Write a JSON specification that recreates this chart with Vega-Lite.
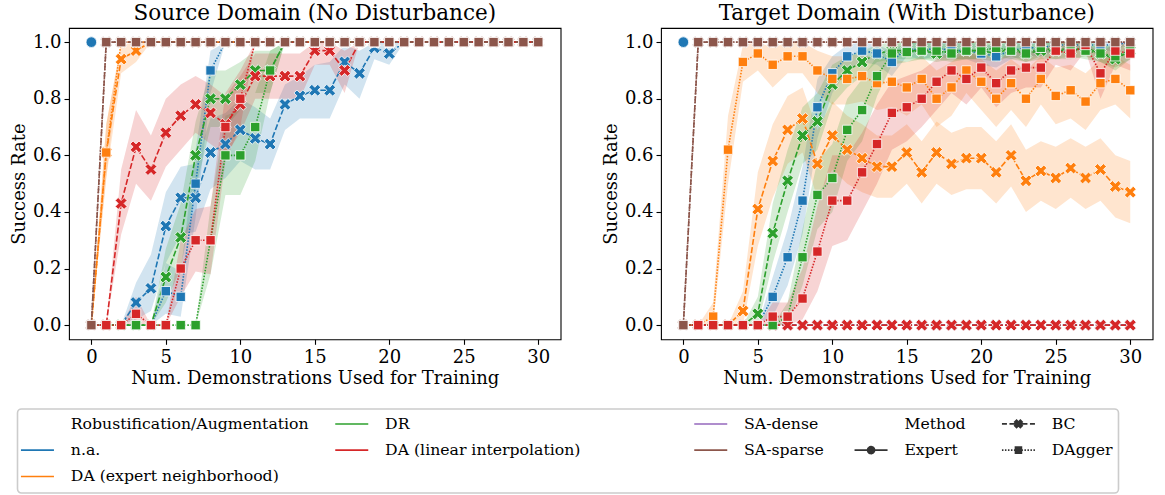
{
  "$schema": "https://vega.github.io/schema/vega-lite/v6.json",
  "padding": {"left": 9, "top": 2, "right": 2, "bottom": 0},
  "background": "white",
  "data": {"values": [
    {"p":"S","g":"na","m":"Expert","x":0,"y":1,"l":1,"h":1},
    {"p":"S","g":"na","m":"BC","x":0,"y":0,"l":0,"h":0},
    {"p":"S","g":"na","m":"BC","x":1,"y":0,"l":0,"h":0},
    {"p":"S","g":"na","m":"BC","x":2,"y":0,"l":0,"h":0},
    {"p":"S","g":"na","m":"BC","x":3,"y":0.08,"l":0.02,"h":0.15},
    {"p":"S","g":"na","m":"BC","x":4,"y":0.13,"l":0.05,"h":0.25},
    {"p":"S","g":"na","m":"BC","x":5,"y":0.35,"l":0.22,"h":0.47},
    {"p":"S","g":"na","m":"BC","x":6,"y":0.45,"l":0.32,"h":0.56},
    {"p":"S","g":"na","m":"BC","x":7,"y":0.45,"l":0.33,"h":0.57},
    {"p":"S","g":"na","m":"BC","x":8,"y":0.61,"l":0.48,"h":0.73},
    {"p":"S","g":"na","m":"BC","x":9,"y":0.64,"l":0.52,"h":0.75},
    {"p":"S","g":"na","m":"BC","x":10,"y":0.69,"l":0.58,"h":0.8},
    {"p":"S","g":"na","m":"BC","x":11,"y":0.66,"l":0.55,"h":0.77},
    {"p":"S","g":"na","m":"BC","x":12,"y":0.64,"l":0.55,"h":0.73},
    {"p":"S","g":"na","m":"BC","x":13,"y":0.78,"l":0.69,"h":0.85},
    {"p":"S","g":"na","m":"BC","x":14,"y":0.81,"l":0.73,"h":0.88},
    {"p":"S","g":"na","m":"BC","x":15,"y":0.83,"l":0.73,"h":0.92},
    {"p":"S","g":"na","m":"BC","x":16,"y":0.83,"l":0.73,"h":0.93},
    {"p":"S","g":"na","m":"BC","x":17,"y":0.93,"l":0.85,"h":0.99},
    {"p":"S","g":"na","m":"BC","x":18,"y":0.89,"l":0.8,"h":0.97},
    {"p":"S","g":"na","m":"BC","x":19,"y":0.98,"l":0.94,"h":1},
    {"p":"S","g":"na","m":"BC","x":20,"y":0.96,"l":0.92,"h":1},
    {"p":"S","g":"na","m":"BC","x":21,"y":1,"l":1,"h":1},
    {"p":"S","g":"na","m":"BC","x":22,"y":1,"l":1,"h":1},
    {"p":"S","g":"na","m":"BC","x":23,"y":1,"l":1,"h":1},
    {"p":"S","g":"na","m":"BC","x":24,"y":1,"l":1,"h":1},
    {"p":"S","g":"na","m":"BC","x":25,"y":1,"l":1,"h":1},
    {"p":"S","g":"na","m":"BC","x":26,"y":1,"l":1,"h":1},
    {"p":"S","g":"na","m":"BC","x":27,"y":1,"l":1,"h":1},
    {"p":"S","g":"na","m":"BC","x":28,"y":1,"l":1,"h":1},
    {"p":"S","g":"na","m":"BC","x":29,"y":1,"l":1,"h":1},
    {"p":"S","g":"na","m":"BC","x":30,"y":1,"l":1,"h":1},
    {"p":"S","g":"na","m":"DAgger","x":0,"y":0,"l":0,"h":0},
    {"p":"S","g":"na","m":"DAgger","x":1,"y":0,"l":0,"h":0},
    {"p":"S","g":"na","m":"DAgger","x":2,"y":0,"l":0,"h":0},
    {"p":"S","g":"na","m":"DAgger","x":3,"y":0,"l":0,"h":0},
    {"p":"S","g":"na","m":"DAgger","x":4,"y":0,"l":0,"h":0},
    {"p":"S","g":"na","m":"DAgger","x":5,"y":0.12,"l":0.04,"h":0.22},
    {"p":"S","g":"na","m":"DAgger","x":6,"y":0.1,"l":0.03,"h":0.19},
    {"p":"S","g":"na","m":"DAgger","x":7,"y":0.5,"l":0.38,"h":0.62},
    {"p":"S","g":"na","m":"DAgger","x":8,"y":0.9,"l":0.82,"h":0.97},
    {"p":"S","g":"na","m":"DAgger","x":9,"y":1,"l":1,"h":1},
    {"p":"S","g":"na","m":"DAgger","x":10,"y":1,"l":1,"h":1},
    {"p":"S","g":"na","m":"DAgger","x":11,"y":1,"l":1,"h":1},
    {"p":"S","g":"na","m":"DAgger","x":12,"y":1,"l":1,"h":1},
    {"p":"S","g":"na","m":"DAgger","x":13,"y":1,"l":1,"h":1},
    {"p":"S","g":"na","m":"DAgger","x":14,"y":1,"l":1,"h":1},
    {"p":"S","g":"na","m":"DAgger","x":15,"y":1,"l":1,"h":1},
    {"p":"S","g":"na","m":"DAgger","x":16,"y":1,"l":1,"h":1},
    {"p":"S","g":"na","m":"DAgger","x":17,"y":1,"l":1,"h":1},
    {"p":"S","g":"na","m":"DAgger","x":18,"y":1,"l":1,"h":1},
    {"p":"S","g":"na","m":"DAgger","x":19,"y":1,"l":1,"h":1},
    {"p":"S","g":"na","m":"DAgger","x":20,"y":1,"l":1,"h":1},
    {"p":"S","g":"na","m":"DAgger","x":21,"y":1,"l":1,"h":1},
    {"p":"S","g":"na","m":"DAgger","x":22,"y":1,"l":1,"h":1},
    {"p":"S","g":"na","m":"DAgger","x":23,"y":1,"l":1,"h":1},
    {"p":"S","g":"na","m":"DAgger","x":24,"y":1,"l":1,"h":1},
    {"p":"S","g":"na","m":"DAgger","x":25,"y":1,"l":1,"h":1},
    {"p":"S","g":"na","m":"DAgger","x":26,"y":1,"l":1,"h":1},
    {"p":"S","g":"na","m":"DAgger","x":27,"y":1,"l":1,"h":1},
    {"p":"S","g":"na","m":"DAgger","x":28,"y":1,"l":1,"h":1},
    {"p":"S","g":"na","m":"DAgger","x":29,"y":1,"l":1,"h":1},
    {"p":"S","g":"na","m":"DAgger","x":30,"y":1,"l":1,"h":1},
    {"p":"S","g":"dae","m":"BC","x":0,"y":0,"l":0,"h":0},
    {"p":"S","g":"dae","m":"BC","x":1,"y":0.61,"l":0.52,"h":0.71},
    {"p":"S","g":"dae","m":"BC","x":2,"y":0.94,"l":0.89,"h":0.99},
    {"p":"S","g":"dae","m":"BC","x":3,"y":0.97,"l":0.93,"h":1},
    {"p":"S","g":"dae","m":"BC","x":4,"y":1,"l":1,"h":1},
    {"p":"S","g":"dae","m":"BC","x":5,"y":1,"l":1,"h":1},
    {"p":"S","g":"dae","m":"BC","x":6,"y":1,"l":1,"h":1},
    {"p":"S","g":"dae","m":"BC","x":7,"y":1,"l":1,"h":1},
    {"p":"S","g":"dae","m":"BC","x":8,"y":1,"l":1,"h":1},
    {"p":"S","g":"dae","m":"BC","x":9,"y":1,"l":1,"h":1},
    {"p":"S","g":"dae","m":"BC","x":10,"y":1,"l":1,"h":1},
    {"p":"S","g":"dae","m":"BC","x":11,"y":1,"l":1,"h":1},
    {"p":"S","g":"dae","m":"BC","x":12,"y":1,"l":1,"h":1},
    {"p":"S","g":"dae","m":"BC","x":13,"y":1,"l":1,"h":1},
    {"p":"S","g":"dae","m":"BC","x":14,"y":1,"l":1,"h":1},
    {"p":"S","g":"dae","m":"BC","x":15,"y":1,"l":1,"h":1},
    {"p":"S","g":"dae","m":"BC","x":16,"y":1,"l":1,"h":1},
    {"p":"S","g":"dae","m":"BC","x":17,"y":1,"l":1,"h":1},
    {"p":"S","g":"dae","m":"BC","x":18,"y":1,"l":1,"h":1},
    {"p":"S","g":"dae","m":"BC","x":19,"y":1,"l":1,"h":1},
    {"p":"S","g":"dae","m":"BC","x":20,"y":1,"l":1,"h":1},
    {"p":"S","g":"dae","m":"BC","x":21,"y":1,"l":1,"h":1},
    {"p":"S","g":"dae","m":"BC","x":22,"y":1,"l":1,"h":1},
    {"p":"S","g":"dae","m":"BC","x":23,"y":1,"l":1,"h":1},
    {"p":"S","g":"dae","m":"BC","x":24,"y":1,"l":1,"h":1},
    {"p":"S","g":"dae","m":"BC","x":25,"y":1,"l":1,"h":1},
    {"p":"S","g":"dae","m":"BC","x":26,"y":1,"l":1,"h":1},
    {"p":"S","g":"dae","m":"BC","x":27,"y":1,"l":1,"h":1},
    {"p":"S","g":"dae","m":"BC","x":28,"y":1,"l":1,"h":1},
    {"p":"S","g":"dae","m":"BC","x":29,"y":1,"l":1,"h":1},
    {"p":"S","g":"dae","m":"BC","x":30,"y":1,"l":1,"h":1},
    {"p":"S","g":"dae","m":"DAgger","x":0,"y":0,"l":0,"h":0},
    {"p":"S","g":"dae","m":"DAgger","x":1,"y":0.61,"l":0.52,"h":0.71},
    {"p":"S","g":"dae","m":"DAgger","x":2,"y":1,"l":1,"h":1},
    {"p":"S","g":"dae","m":"DAgger","x":3,"y":1,"l":1,"h":1},
    {"p":"S","g":"dae","m":"DAgger","x":4,"y":1,"l":1,"h":1},
    {"p":"S","g":"dae","m":"DAgger","x":5,"y":1,"l":1,"h":1},
    {"p":"S","g":"dae","m":"DAgger","x":6,"y":1,"l":1,"h":1},
    {"p":"S","g":"dae","m":"DAgger","x":7,"y":1,"l":1,"h":1},
    {"p":"S","g":"dae","m":"DAgger","x":8,"y":1,"l":1,"h":1},
    {"p":"S","g":"dae","m":"DAgger","x":9,"y":1,"l":1,"h":1},
    {"p":"S","g":"dae","m":"DAgger","x":10,"y":1,"l":1,"h":1},
    {"p":"S","g":"dae","m":"DAgger","x":11,"y":1,"l":1,"h":1},
    {"p":"S","g":"dae","m":"DAgger","x":12,"y":1,"l":1,"h":1},
    {"p":"S","g":"dae","m":"DAgger","x":13,"y":1,"l":1,"h":1},
    {"p":"S","g":"dae","m":"DAgger","x":14,"y":1,"l":1,"h":1},
    {"p":"S","g":"dae","m":"DAgger","x":15,"y":1,"l":1,"h":1},
    {"p":"S","g":"dae","m":"DAgger","x":16,"y":1,"l":1,"h":1},
    {"p":"S","g":"dae","m":"DAgger","x":17,"y":1,"l":1,"h":1},
    {"p":"S","g":"dae","m":"DAgger","x":18,"y":1,"l":1,"h":1},
    {"p":"S","g":"dae","m":"DAgger","x":19,"y":1,"l":1,"h":1},
    {"p":"S","g":"dae","m":"DAgger","x":20,"y":1,"l":1,"h":1},
    {"p":"S","g":"dae","m":"DAgger","x":21,"y":1,"l":1,"h":1},
    {"p":"S","g":"dae","m":"DAgger","x":22,"y":1,"l":1,"h":1},
    {"p":"S","g":"dae","m":"DAgger","x":23,"y":1,"l":1,"h":1},
    {"p":"S","g":"dae","m":"DAgger","x":24,"y":1,"l":1,"h":1},
    {"p":"S","g":"dae","m":"DAgger","x":25,"y":1,"l":1,"h":1},
    {"p":"S","g":"dae","m":"DAgger","x":26,"y":1,"l":1,"h":1},
    {"p":"S","g":"dae","m":"DAgger","x":27,"y":1,"l":1,"h":1},
    {"p":"S","g":"dae","m":"DAgger","x":28,"y":1,"l":1,"h":1},
    {"p":"S","g":"dae","m":"DAgger","x":29,"y":1,"l":1,"h":1},
    {"p":"S","g":"dae","m":"DAgger","x":30,"y":1,"l":1,"h":1},
    {"p":"S","g":"dr","m":"BC","x":0,"y":0,"l":0,"h":0},
    {"p":"S","g":"dr","m":"BC","x":1,"y":0,"l":0,"h":0},
    {"p":"S","g":"dr","m":"BC","x":2,"y":0,"l":0,"h":0},
    {"p":"S","g":"dr","m":"BC","x":3,"y":0,"l":0,"h":0},
    {"p":"S","g":"dr","m":"BC","x":4,"y":0,"l":0,"h":0},
    {"p":"S","g":"dr","m":"BC","x":5,"y":0.17,"l":0.08,"h":0.27},
    {"p":"S","g":"dr","m":"BC","x":6,"y":0.31,"l":0.2,"h":0.43},
    {"p":"S","g":"dr","m":"BC","x":7,"y":0.6,"l":0.48,"h":0.72},
    {"p":"S","g":"dr","m":"BC","x":8,"y":0.8,"l":0.7,"h":0.9},
    {"p":"S","g":"dr","m":"BC","x":9,"y":0.8,"l":0.7,"h":0.9},
    {"p":"S","g":"dr","m":"BC","x":10,"y":0.85,"l":0.76,"h":0.93},
    {"p":"S","g":"dr","m":"BC","x":11,"y":0.9,"l":0.82,"h":0.97},
    {"p":"S","g":"dr","m":"BC","x":12,"y":0.9,"l":0.82,"h":0.97},
    {"p":"S","g":"dr","m":"BC","x":13,"y":1,"l":1,"h":1},
    {"p":"S","g":"dr","m":"BC","x":14,"y":1,"l":1,"h":1},
    {"p":"S","g":"dr","m":"BC","x":15,"y":1,"l":1,"h":1},
    {"p":"S","g":"dr","m":"BC","x":16,"y":1,"l":1,"h":1},
    {"p":"S","g":"dr","m":"BC","x":17,"y":1,"l":1,"h":1},
    {"p":"S","g":"dr","m":"BC","x":18,"y":1,"l":1,"h":1},
    {"p":"S","g":"dr","m":"BC","x":19,"y":1,"l":1,"h":1},
    {"p":"S","g":"dr","m":"BC","x":20,"y":1,"l":1,"h":1},
    {"p":"S","g":"dr","m":"BC","x":21,"y":1,"l":1,"h":1},
    {"p":"S","g":"dr","m":"BC","x":22,"y":1,"l":1,"h":1},
    {"p":"S","g":"dr","m":"BC","x":23,"y":1,"l":1,"h":1},
    {"p":"S","g":"dr","m":"BC","x":24,"y":1,"l":1,"h":1},
    {"p":"S","g":"dr","m":"BC","x":25,"y":1,"l":1,"h":1},
    {"p":"S","g":"dr","m":"BC","x":26,"y":1,"l":1,"h":1},
    {"p":"S","g":"dr","m":"BC","x":27,"y":1,"l":1,"h":1},
    {"p":"S","g":"dr","m":"BC","x":28,"y":1,"l":1,"h":1},
    {"p":"S","g":"dr","m":"BC","x":29,"y":1,"l":1,"h":1},
    {"p":"S","g":"dr","m":"BC","x":30,"y":1,"l":1,"h":1},
    {"p":"S","g":"dr","m":"DAgger","x":0,"y":0,"l":0,"h":0},
    {"p":"S","g":"dr","m":"DAgger","x":1,"y":0,"l":0,"h":0},
    {"p":"S","g":"dr","m":"DAgger","x":2,"y":0,"l":0,"h":0},
    {"p":"S","g":"dr","m":"DAgger","x":3,"y":0,"l":0,"h":0},
    {"p":"S","g":"dr","m":"DAgger","x":4,"y":0,"l":0,"h":0},
    {"p":"S","g":"dr","m":"DAgger","x":5,"y":0,"l":0,"h":0},
    {"p":"S","g":"dr","m":"DAgger","x":6,"y":0,"l":0,"h":0},
    {"p":"S","g":"dr","m":"DAgger","x":7,"y":0,"l":0,"h":0},
    {"p":"S","g":"dr","m":"DAgger","x":8,"y":0.3,"l":0.18,"h":0.42},
    {"p":"S","g":"dr","m":"DAgger","x":9,"y":0.6,"l":0.46,"h":0.74},
    {"p":"S","g":"dr","m":"DAgger","x":10,"y":0.6,"l":0.46,"h":0.76},
    {"p":"S","g":"dr","m":"DAgger","x":11,"y":0.7,"l":0.58,"h":0.82},
    {"p":"S","g":"dr","m":"DAgger","x":12,"y":0.9,"l":0.82,"h":0.97},
    {"p":"S","g":"dr","m":"DAgger","x":13,"y":1,"l":1,"h":1},
    {"p":"S","g":"dr","m":"DAgger","x":14,"y":1,"l":1,"h":1},
    {"p":"S","g":"dr","m":"DAgger","x":15,"y":1,"l":1,"h":1},
    {"p":"S","g":"dr","m":"DAgger","x":16,"y":1,"l":1,"h":1},
    {"p":"S","g":"dr","m":"DAgger","x":17,"y":1,"l":1,"h":1},
    {"p":"S","g":"dr","m":"DAgger","x":18,"y":1,"l":1,"h":1},
    {"p":"S","g":"dr","m":"DAgger","x":19,"y":1,"l":1,"h":1},
    {"p":"S","g":"dr","m":"DAgger","x":20,"y":1,"l":1,"h":1},
    {"p":"S","g":"dr","m":"DAgger","x":21,"y":1,"l":1,"h":1},
    {"p":"S","g":"dr","m":"DAgger","x":22,"y":1,"l":1,"h":1},
    {"p":"S","g":"dr","m":"DAgger","x":23,"y":1,"l":1,"h":1},
    {"p":"S","g":"dr","m":"DAgger","x":24,"y":1,"l":1,"h":1},
    {"p":"S","g":"dr","m":"DAgger","x":25,"y":1,"l":1,"h":1},
    {"p":"S","g":"dr","m":"DAgger","x":26,"y":1,"l":1,"h":1},
    {"p":"S","g":"dr","m":"DAgger","x":27,"y":1,"l":1,"h":1},
    {"p":"S","g":"dr","m":"DAgger","x":28,"y":1,"l":1,"h":1},
    {"p":"S","g":"dr","m":"DAgger","x":29,"y":1,"l":1,"h":1},
    {"p":"S","g":"dr","m":"DAgger","x":30,"y":1,"l":1,"h":1},
    {"p":"S","g":"dal","m":"BC","x":0,"y":0,"l":0,"h":0},
    {"p":"S","g":"dal","m":"BC","x":1,"y":0,"l":0,"h":0},
    {"p":"S","g":"dal","m":"BC","x":2,"y":0.43,"l":0.32,"h":0.55},
    {"p":"S","g":"dal","m":"BC","x":3,"y":0.63,"l":0.5,"h":0.76},
    {"p":"S","g":"dal","m":"BC","x":4,"y":0.55,"l":0.44,"h":0.67},
    {"p":"S","g":"dal","m":"BC","x":5,"y":0.68,"l":0.56,"h":0.8},
    {"p":"S","g":"dal","m":"BC","x":6,"y":0.74,"l":0.62,"h":0.85},
    {"p":"S","g":"dal","m":"BC","x":7,"y":0.78,"l":0.68,"h":0.88},
    {"p":"S","g":"dal","m":"BC","x":8,"y":0.75,"l":0.64,"h":0.85},
    {"p":"S","g":"dal","m":"BC","x":9,"y":0.71,"l":0.6,"h":0.81},
    {"p":"S","g":"dal","m":"BC","x":10,"y":0.78,"l":0.68,"h":0.88},
    {"p":"S","g":"dal","m":"BC","x":11,"y":0.88,"l":0.8,"h":0.96},
    {"p":"S","g":"dal","m":"BC","x":12,"y":0.88,"l":0.8,"h":0.96},
    {"p":"S","g":"dal","m":"BC","x":13,"y":0.88,"l":0.8,"h":0.96},
    {"p":"S","g":"dal","m":"BC","x":14,"y":0.88,"l":0.8,"h":0.96},
    {"p":"S","g":"dal","m":"BC","x":15,"y":0.97,"l":0.92,"h":1},
    {"p":"S","g":"dal","m":"BC","x":16,"y":0.97,"l":0.92,"h":1},
    {"p":"S","g":"dal","m":"BC","x":17,"y":0.9,"l":0.82,"h":0.97},
    {"p":"S","g":"dal","m":"BC","x":18,"y":1,"l":1,"h":1},
    {"p":"S","g":"dal","m":"BC","x":19,"y":1,"l":1,"h":1},
    {"p":"S","g":"dal","m":"BC","x":20,"y":1,"l":1,"h":1},
    {"p":"S","g":"dal","m":"BC","x":21,"y":1,"l":1,"h":1},
    {"p":"S","g":"dal","m":"BC","x":22,"y":1,"l":1,"h":1},
    {"p":"S","g":"dal","m":"BC","x":23,"y":1,"l":1,"h":1},
    {"p":"S","g":"dal","m":"BC","x":24,"y":1,"l":1,"h":1},
    {"p":"S","g":"dal","m":"BC","x":25,"y":1,"l":1,"h":1},
    {"p":"S","g":"dal","m":"BC","x":26,"y":1,"l":1,"h":1},
    {"p":"S","g":"dal","m":"BC","x":27,"y":1,"l":1,"h":1},
    {"p":"S","g":"dal","m":"BC","x":28,"y":1,"l":1,"h":1},
    {"p":"S","g":"dal","m":"BC","x":29,"y":1,"l":1,"h":1},
    {"p":"S","g":"dal","m":"BC","x":30,"y":1,"l":1,"h":1},
    {"p":"S","g":"dal","m":"DAgger","x":0,"y":0,"l":0,"h":0},
    {"p":"S","g":"dal","m":"DAgger","x":1,"y":0,"l":0,"h":0},
    {"p":"S","g":"dal","m":"DAgger","x":2,"y":0,"l":0,"h":0},
    {"p":"S","g":"dal","m":"DAgger","x":3,"y":0.04,"l":0,"h":0.1},
    {"p":"S","g":"dal","m":"DAgger","x":4,"y":0,"l":0,"h":0},
    {"p":"S","g":"dal","m":"DAgger","x":5,"y":0,"l":0,"h":0},
    {"p":"S","g":"dal","m":"DAgger","x":6,"y":0.2,"l":0.1,"h":0.3},
    {"p":"S","g":"dal","m":"DAgger","x":7,"y":0.3,"l":0.19,"h":0.41},
    {"p":"S","g":"dal","m":"DAgger","x":8,"y":0.3,"l":0.18,"h":0.42},
    {"p":"S","g":"dal","m":"DAgger","x":9,"y":0.7,"l":0.58,"h":0.82},
    {"p":"S","g":"dal","m":"DAgger","x":10,"y":0.8,"l":0.7,"h":0.9},
    {"p":"S","g":"dal","m":"DAgger","x":11,"y":1,"l":1,"h":1},
    {"p":"S","g":"dal","m":"DAgger","x":12,"y":1,"l":1,"h":1},
    {"p":"S","g":"dal","m":"DAgger","x":13,"y":1,"l":1,"h":1},
    {"p":"S","g":"dal","m":"DAgger","x":14,"y":1,"l":1,"h":1},
    {"p":"S","g":"dal","m":"DAgger","x":15,"y":1,"l":1,"h":1},
    {"p":"S","g":"dal","m":"DAgger","x":16,"y":1,"l":1,"h":1},
    {"p":"S","g":"dal","m":"DAgger","x":17,"y":1,"l":1,"h":1},
    {"p":"S","g":"dal","m":"DAgger","x":18,"y":1,"l":1,"h":1},
    {"p":"S","g":"dal","m":"DAgger","x":19,"y":1,"l":1,"h":1},
    {"p":"S","g":"dal","m":"DAgger","x":20,"y":1,"l":1,"h":1},
    {"p":"S","g":"dal","m":"DAgger","x":21,"y":1,"l":1,"h":1},
    {"p":"S","g":"dal","m":"DAgger","x":22,"y":1,"l":1,"h":1},
    {"p":"S","g":"dal","m":"DAgger","x":23,"y":1,"l":1,"h":1},
    {"p":"S","g":"dal","m":"DAgger","x":24,"y":1,"l":1,"h":1},
    {"p":"S","g":"dal","m":"DAgger","x":25,"y":1,"l":1,"h":1},
    {"p":"S","g":"dal","m":"DAgger","x":26,"y":1,"l":1,"h":1},
    {"p":"S","g":"dal","m":"DAgger","x":27,"y":1,"l":1,"h":1},
    {"p":"S","g":"dal","m":"DAgger","x":28,"y":1,"l":1,"h":1},
    {"p":"S","g":"dal","m":"DAgger","x":29,"y":1,"l":1,"h":1},
    {"p":"S","g":"dal","m":"DAgger","x":30,"y":1,"l":1,"h":1},
    {"p":"S","g":"sas","m":"BC","x":0,"y":0,"l":0,"h":0},
    {"p":"S","g":"sas","m":"BC","x":1,"y":1,"l":1,"h":1},
    {"p":"S","g":"sas","m":"BC","x":2,"y":1,"l":1,"h":1},
    {"p":"S","g":"sas","m":"BC","x":3,"y":1,"l":1,"h":1},
    {"p":"S","g":"sas","m":"BC","x":4,"y":1,"l":1,"h":1},
    {"p":"S","g":"sas","m":"BC","x":5,"y":1,"l":1,"h":1},
    {"p":"S","g":"sas","m":"BC","x":6,"y":1,"l":1,"h":1},
    {"p":"S","g":"sas","m":"BC","x":7,"y":1,"l":1,"h":1},
    {"p":"S","g":"sas","m":"BC","x":8,"y":1,"l":1,"h":1},
    {"p":"S","g":"sas","m":"BC","x":9,"y":1,"l":1,"h":1},
    {"p":"S","g":"sas","m":"BC","x":10,"y":1,"l":1,"h":1},
    {"p":"S","g":"sas","m":"BC","x":11,"y":1,"l":1,"h":1},
    {"p":"S","g":"sas","m":"BC","x":12,"y":1,"l":1,"h":1},
    {"p":"S","g":"sas","m":"BC","x":13,"y":1,"l":1,"h":1},
    {"p":"S","g":"sas","m":"BC","x":14,"y":1,"l":1,"h":1},
    {"p":"S","g":"sas","m":"BC","x":15,"y":1,"l":1,"h":1},
    {"p":"S","g":"sas","m":"BC","x":16,"y":1,"l":1,"h":1},
    {"p":"S","g":"sas","m":"BC","x":17,"y":1,"l":1,"h":1},
    {"p":"S","g":"sas","m":"BC","x":18,"y":1,"l":1,"h":1},
    {"p":"S","g":"sas","m":"BC","x":19,"y":1,"l":1,"h":1},
    {"p":"S","g":"sas","m":"BC","x":20,"y":1,"l":1,"h":1},
    {"p":"S","g":"sas","m":"BC","x":21,"y":1,"l":1,"h":1},
    {"p":"S","g":"sas","m":"BC","x":22,"y":1,"l":1,"h":1},
    {"p":"S","g":"sas","m":"BC","x":23,"y":1,"l":1,"h":1},
    {"p":"S","g":"sas","m":"BC","x":24,"y":1,"l":1,"h":1},
    {"p":"S","g":"sas","m":"BC","x":25,"y":1,"l":1,"h":1},
    {"p":"S","g":"sas","m":"BC","x":26,"y":1,"l":1,"h":1},
    {"p":"S","g":"sas","m":"BC","x":27,"y":1,"l":1,"h":1},
    {"p":"S","g":"sas","m":"BC","x":28,"y":1,"l":1,"h":1},
    {"p":"S","g":"sas","m":"BC","x":29,"y":1,"l":1,"h":1},
    {"p":"S","g":"sas","m":"BC","x":30,"y":1,"l":1,"h":1},
    {"p":"S","g":"sas","m":"DAgger","x":0,"y":0,"l":0,"h":0},
    {"p":"S","g":"sas","m":"DAgger","x":1,"y":1,"l":1,"h":1},
    {"p":"S","g":"sas","m":"DAgger","x":2,"y":1,"l":1,"h":1},
    {"p":"S","g":"sas","m":"DAgger","x":3,"y":1,"l":1,"h":1},
    {"p":"S","g":"sas","m":"DAgger","x":4,"y":1,"l":1,"h":1},
    {"p":"S","g":"sas","m":"DAgger","x":5,"y":1,"l":1,"h":1},
    {"p":"S","g":"sas","m":"DAgger","x":6,"y":1,"l":1,"h":1},
    {"p":"S","g":"sas","m":"DAgger","x":7,"y":1,"l":1,"h":1},
    {"p":"S","g":"sas","m":"DAgger","x":8,"y":1,"l":1,"h":1},
    {"p":"S","g":"sas","m":"DAgger","x":9,"y":1,"l":1,"h":1},
    {"p":"S","g":"sas","m":"DAgger","x":10,"y":1,"l":1,"h":1},
    {"p":"S","g":"sas","m":"DAgger","x":11,"y":1,"l":1,"h":1},
    {"p":"S","g":"sas","m":"DAgger","x":12,"y":1,"l":1,"h":1},
    {"p":"S","g":"sas","m":"DAgger","x":13,"y":1,"l":1,"h":1},
    {"p":"S","g":"sas","m":"DAgger","x":14,"y":1,"l":1,"h":1},
    {"p":"S","g":"sas","m":"DAgger","x":15,"y":1,"l":1,"h":1},
    {"p":"S","g":"sas","m":"DAgger","x":16,"y":1,"l":1,"h":1},
    {"p":"S","g":"sas","m":"DAgger","x":17,"y":1,"l":1,"h":1},
    {"p":"S","g":"sas","m":"DAgger","x":18,"y":1,"l":1,"h":1},
    {"p":"S","g":"sas","m":"DAgger","x":19,"y":1,"l":1,"h":1},
    {"p":"S","g":"sas","m":"DAgger","x":20,"y":1,"l":1,"h":1},
    {"p":"S","g":"sas","m":"DAgger","x":21,"y":1,"l":1,"h":1},
    {"p":"S","g":"sas","m":"DAgger","x":22,"y":1,"l":1,"h":1},
    {"p":"S","g":"sas","m":"DAgger","x":23,"y":1,"l":1,"h":1},
    {"p":"S","g":"sas","m":"DAgger","x":24,"y":1,"l":1,"h":1},
    {"p":"S","g":"sas","m":"DAgger","x":25,"y":1,"l":1,"h":1},
    {"p":"S","g":"sas","m":"DAgger","x":26,"y":1,"l":1,"h":1},
    {"p":"S","g":"sas","m":"DAgger","x":27,"y":1,"l":1,"h":1},
    {"p":"S","g":"sas","m":"DAgger","x":28,"y":1,"l":1,"h":1},
    {"p":"S","g":"sas","m":"DAgger","x":29,"y":1,"l":1,"h":1},
    {"p":"S","g":"sas","m":"DAgger","x":30,"y":1,"l":1,"h":1},

    {"p":"T","g":"na","m":"Expert","x":0,"y":1,"l":1,"h":1},
    {"p":"T","g":"na","m":"BC","x":0,"y":0,"l":0,"h":0},
    {"p":"T","g":"na","m":"BC","x":1,"y":0,"l":0,"h":0},
    {"p":"T","g":"na","m":"BC","x":2,"y":0,"l":0,"h":0},
    {"p":"T","g":"na","m":"BC","x":3,"y":0,"l":0,"h":0},
    {"p":"T","g":"na","m":"BC","x":4,"y":0,"l":0,"h":0},
    {"p":"T","g":"na","m":"BC","x":5,"y":0,"l":0,"h":0},
    {"p":"T","g":"na","m":"BC","x":6,"y":0,"l":0,"h":0},
    {"p":"T","g":"na","m":"BC","x":7,"y":0,"l":0,"h":0},
    {"p":"T","g":"na","m":"BC","x":8,"y":0,"l":0,"h":0},
    {"p":"T","g":"na","m":"BC","x":9,"y":0,"l":0,"h":0},
    {"p":"T","g":"na","m":"BC","x":10,"y":0,"l":0,"h":0},
    {"p":"T","g":"na","m":"BC","x":11,"y":0,"l":0,"h":0},
    {"p":"T","g":"na","m":"BC","x":12,"y":0,"l":0,"h":0},
    {"p":"T","g":"na","m":"BC","x":13,"y":0,"l":0,"h":0},
    {"p":"T","g":"na","m":"BC","x":14,"y":0,"l":0,"h":0},
    {"p":"T","g":"na","m":"BC","x":15,"y":0,"l":0,"h":0},
    {"p":"T","g":"na","m":"BC","x":16,"y":0,"l":0,"h":0},
    {"p":"T","g":"na","m":"BC","x":17,"y":0,"l":0,"h":0},
    {"p":"T","g":"na","m":"BC","x":18,"y":0,"l":0,"h":0},
    {"p":"T","g":"na","m":"BC","x":19,"y":0,"l":0,"h":0},
    {"p":"T","g":"na","m":"BC","x":20,"y":0,"l":0,"h":0},
    {"p":"T","g":"na","m":"BC","x":21,"y":0,"l":0,"h":0},
    {"p":"T","g":"na","m":"BC","x":22,"y":0,"l":0,"h":0},
    {"p":"T","g":"na","m":"BC","x":23,"y":0,"l":0,"h":0},
    {"p":"T","g":"na","m":"BC","x":24,"y":0,"l":0,"h":0},
    {"p":"T","g":"na","m":"BC","x":25,"y":0,"l":0,"h":0},
    {"p":"T","g":"na","m":"BC","x":26,"y":0,"l":0,"h":0},
    {"p":"T","g":"na","m":"BC","x":27,"y":0,"l":0,"h":0},
    {"p":"T","g":"na","m":"BC","x":28,"y":0,"l":0,"h":0},
    {"p":"T","g":"na","m":"BC","x":29,"y":0,"l":0,"h":0},
    {"p":"T","g":"na","m":"BC","x":30,"y":0,"l":0,"h":0},
    {"p":"T","g":"na","m":"DAgger","x":0,"y":0,"l":0,"h":0},
    {"p":"T","g":"na","m":"DAgger","x":1,"y":0,"l":0,"h":0},
    {"p":"T","g":"na","m":"DAgger","x":2,"y":0,"l":0,"h":0},
    {"p":"T","g":"na","m":"DAgger","x":3,"y":0,"l":0,"h":0},
    {"p":"T","g":"na","m":"DAgger","x":4,"y":0,"l":0,"h":0},
    {"p":"T","g":"na","m":"DAgger","x":5,"y":0,"l":0,"h":0},
    {"p":"T","g":"na","m":"DAgger","x":6,"y":0.1,"l":0.03,"h":0.17},
    {"p":"T","g":"na","m":"DAgger","x":7,"y":0.24,"l":0.14,"h":0.34},
    {"p":"T","g":"na","m":"DAgger","x":8,"y":0.44,"l":0.32,"h":0.56},
    {"p":"T","g":"na","m":"DAgger","x":9,"y":0.77,"l":0.66,"h":0.87},
    {"p":"T","g":"na","m":"DAgger","x":10,"y":0.89,"l":0.82,"h":0.95},
    {"p":"T","g":"na","m":"DAgger","x":11,"y":0.95,"l":0.9,"h":0.99},
    {"p":"T","g":"na","m":"DAgger","x":12,"y":0.97,"l":0.93,"h":1},
    {"p":"T","g":"na","m":"DAgger","x":13,"y":0.96,"l":0.92,"h":0.99},
    {"p":"T","g":"na","m":"DAgger","x":14,"y":0.93,"l":0.88,"h":0.97},
    {"p":"T","g":"na","m":"DAgger","x":15,"y":0.98,"l":0.95,"h":1},
    {"p":"T","g":"na","m":"DAgger","x":16,"y":0.97,"l":0.94,"h":1},
    {"p":"T","g":"na","m":"DAgger","x":17,"y":0.98,"l":0.95,"h":1},
    {"p":"T","g":"na","m":"DAgger","x":18,"y":0.97,"l":0.94,"h":1},
    {"p":"T","g":"na","m":"DAgger","x":19,"y":0.97,"l":0.94,"h":1},
    {"p":"T","g":"na","m":"DAgger","x":20,"y":0.96,"l":0.92,"h":0.99},
    {"p":"T","g":"na","m":"DAgger","x":21,"y":0.95,"l":0.91,"h":0.99},
    {"p":"T","g":"na","m":"DAgger","x":22,"y":0.97,"l":0.94,"h":1},
    {"p":"T","g":"na","m":"DAgger","x":23,"y":0.98,"l":0.95,"h":1},
    {"p":"T","g":"na","m":"DAgger","x":24,"y":0.98,"l":0.95,"h":1},
    {"p":"T","g":"na","m":"DAgger","x":25,"y":0.99,"l":0.97,"h":1},
    {"p":"T","g":"na","m":"DAgger","x":26,"y":0.99,"l":0.97,"h":1},
    {"p":"T","g":"na","m":"DAgger","x":27,"y":0.99,"l":0.97,"h":1},
    {"p":"T","g":"na","m":"DAgger","x":28,"y":0.99,"l":0.97,"h":1},
    {"p":"T","g":"na","m":"DAgger","x":29,"y":0.99,"l":0.97,"h":1},
    {"p":"T","g":"na","m":"DAgger","x":30,"y":1,"l":1,"h":1},
    {"p":"T","g":"dae","m":"BC","x":0,"y":0,"l":0,"h":0},
    {"p":"T","g":"dae","m":"BC","x":1,"y":0,"l":0,"h":0},
    {"p":"T","g":"dae","m":"BC","x":2,"y":0,"l":0,"h":0},
    {"p":"T","g":"dae","m":"BC","x":3,"y":0,"l":0,"h":0},
    {"p":"T","g":"dae","m":"BC","x":4,"y":0.05,"l":0,"h":0.12},
    {"p":"T","g":"dae","m":"BC","x":5,"y":0.41,"l":0.28,"h":0.54},
    {"p":"T","g":"dae","m":"BC","x":6,"y":0.58,"l":0.45,"h":0.71},
    {"p":"T","g":"dae","m":"BC","x":7,"y":0.69,"l":0.57,"h":0.81},
    {"p":"T","g":"dae","m":"BC","x":8,"y":0.73,"l":0.61,"h":0.84},
    {"p":"T","g":"dae","m":"BC","x":9,"y":0.57,"l":0.45,"h":0.69},
    {"p":"T","g":"dae","m":"BC","x":10,"y":0.67,"l":0.55,"h":0.79},
    {"p":"T","g":"dae","m":"BC","x":11,"y":0.62,"l":0.5,"h":0.74},
    {"p":"T","g":"dae","m":"BC","x":12,"y":0.59,"l":0.47,"h":0.71},
    {"p":"T","g":"dae","m":"BC","x":13,"y":0.56,"l":0.45,"h":0.67},
    {"p":"T","g":"dae","m":"BC","x":14,"y":0.56,"l":0.45,"h":0.67},
    {"p":"T","g":"dae","m":"BC","x":15,"y":0.61,"l":0.5,"h":0.71},
    {"p":"T","g":"dae","m":"BC","x":16,"y":0.54,"l":0.43,"h":0.65},
    {"p":"T","g":"dae","m":"BC","x":17,"y":0.61,"l":0.5,"h":0.72},
    {"p":"T","g":"dae","m":"BC","x":18,"y":0.57,"l":0.46,"h":0.68},
    {"p":"T","g":"dae","m":"BC","x":19,"y":0.59,"l":0.48,"h":0.7},
    {"p":"T","g":"dae","m":"BC","x":20,"y":0.59,"l":0.48,"h":0.7},
    {"p":"T","g":"dae","m":"BC","x":21,"y":0.54,"l":0.43,"h":0.65},
    {"p":"T","g":"dae","m":"BC","x":22,"y":0.6,"l":0.49,"h":0.71},
    {"p":"T","g":"dae","m":"BC","x":23,"y":0.51,"l":0.4,"h":0.62},
    {"p":"T","g":"dae","m":"BC","x":24,"y":0.545,"l":0.44,"h":0.65},
    {"p":"T","g":"dae","m":"BC","x":25,"y":0.52,"l":0.41,"h":0.63},
    {"p":"T","g":"dae","m":"BC","x":26,"y":0.555,"l":0.45,"h":0.66},
    {"p":"T","g":"dae","m":"BC","x":27,"y":0.52,"l":0.41,"h":0.63},
    {"p":"T","g":"dae","m":"BC","x":28,"y":0.55,"l":0.44,"h":0.66},
    {"p":"T","g":"dae","m":"BC","x":29,"y":0.49,"l":0.38,"h":0.6},
    {"p":"T","g":"dae","m":"BC","x":30,"y":0.47,"l":0.36,"h":0.58},
    {"p":"T","g":"dae","m":"DAgger","x":0,"y":0,"l":0,"h":0},
    {"p":"T","g":"dae","m":"DAgger","x":1,"y":0,"l":0,"h":0},
    {"p":"T","g":"dae","m":"DAgger","x":2,"y":0.03,"l":0,"h":0.08},
    {"p":"T","g":"dae","m":"DAgger","x":3,"y":0.62,"l":0.5,"h":0.74},
    {"p":"T","g":"dae","m":"DAgger","x":4,"y":0.93,"l":0.86,"h":0.99},
    {"p":"T","g":"dae","m":"DAgger","x":5,"y":0.96,"l":0.9,"h":1},
    {"p":"T","g":"dae","m":"DAgger","x":6,"y":0.92,"l":0.84,"h":0.98},
    {"p":"T","g":"dae","m":"DAgger","x":7,"y":0.95,"l":0.89,"h":1},
    {"p":"T","g":"dae","m":"DAgger","x":8,"y":0.95,"l":0.89,"h":1},
    {"p":"T","g":"dae","m":"DAgger","x":9,"y":0.9,"l":0.82,"h":0.97},
    {"p":"T","g":"dae","m":"DAgger","x":10,"y":0.87,"l":0.78,"h":0.95},
    {"p":"T","g":"dae","m":"DAgger","x":11,"y":0.87,"l":0.78,"h":0.95},
    {"p":"T","g":"dae","m":"DAgger","x":12,"y":0.88,"l":0.79,"h":0.96},
    {"p":"T","g":"dae","m":"DAgger","x":13,"y":0.855,"l":0.76,"h":0.94},
    {"p":"T","g":"dae","m":"DAgger","x":14,"y":0.86,"l":0.77,"h":0.94},
    {"p":"T","g":"dae","m":"DAgger","x":15,"y":0.84,"l":0.74,"h":0.93},
    {"p":"T","g":"dae","m":"DAgger","x":16,"y":0.87,"l":0.78,"h":0.95},
    {"p":"T","g":"dae","m":"DAgger","x":17,"y":0.8,"l":0.7,"h":0.9},
    {"p":"T","g":"dae","m":"DAgger","x":18,"y":0.84,"l":0.74,"h":0.93},
    {"p":"T","g":"dae","m":"DAgger","x":19,"y":0.9,"l":0.82,"h":0.97},
    {"p":"T","g":"dae","m":"DAgger","x":20,"y":0.86,"l":0.76,"h":0.94},
    {"p":"T","g":"dae","m":"DAgger","x":21,"y":0.8,"l":0.7,"h":0.9},
    {"p":"T","g":"dae","m":"DAgger","x":22,"y":0.855,"l":0.76,"h":0.94},
    {"p":"T","g":"dae","m":"DAgger","x":23,"y":0.8,"l":0.7,"h":0.9},
    {"p":"T","g":"dae","m":"DAgger","x":24,"y":0.87,"l":0.78,"h":0.95},
    {"p":"T","g":"dae","m":"DAgger","x":25,"y":0.81,"l":0.71,"h":0.91},
    {"p":"T","g":"dae","m":"DAgger","x":26,"y":0.83,"l":0.73,"h":0.92},
    {"p":"T","g":"dae","m":"DAgger","x":27,"y":0.79,"l":0.69,"h":0.89},
    {"p":"T","g":"dae","m":"DAgger","x":28,"y":0.855,"l":0.76,"h":0.94},
    {"p":"T","g":"dae","m":"DAgger","x":29,"y":0.87,"l":0.78,"h":0.95},
    {"p":"T","g":"dae","m":"DAgger","x":30,"y":0.83,"l":0.73,"h":0.92},
    {"p":"T","g":"dr","m":"BC","x":0,"y":0,"l":0,"h":0},
    {"p":"T","g":"dr","m":"BC","x":1,"y":0,"l":0,"h":0},
    {"p":"T","g":"dr","m":"BC","x":2,"y":0,"l":0,"h":0},
    {"p":"T","g":"dr","m":"BC","x":3,"y":0,"l":0,"h":0},
    {"p":"T","g":"dr","m":"BC","x":4,"y":0,"l":0,"h":0},
    {"p":"T","g":"dr","m":"BC","x":5,"y":0.04,"l":0,"h":0.1},
    {"p":"T","g":"dr","m":"BC","x":6,"y":0.325,"l":0.22,"h":0.43},
    {"p":"T","g":"dr","m":"BC","x":7,"y":0.51,"l":0.4,"h":0.62},
    {"p":"T","g":"dr","m":"BC","x":8,"y":0.67,"l":0.57,"h":0.77},
    {"p":"T","g":"dr","m":"BC","x":9,"y":0.72,"l":0.62,"h":0.82},
    {"p":"T","g":"dr","m":"BC","x":10,"y":0.85,"l":0.78,"h":0.92},
    {"p":"T","g":"dr","m":"BC","x":11,"y":0.9,"l":0.84,"h":0.95},
    {"p":"T","g":"dr","m":"BC","x":12,"y":0.93,"l":0.88,"h":0.97},
    {"p":"T","g":"dr","m":"BC","x":13,"y":0.96,"l":0.93,"h":0.99},
    {"p":"T","g":"dr","m":"BC","x":14,"y":0.97,"l":0.94,"h":1},
    {"p":"T","g":"dr","m":"BC","x":15,"y":0.97,"l":0.94,"h":1},
    {"p":"T","g":"dr","m":"BC","x":16,"y":0.97,"l":0.94,"h":1},
    {"p":"T","g":"dr","m":"BC","x":17,"y":0.96,"l":0.93,"h":0.99},
    {"p":"T","g":"dr","m":"BC","x":18,"y":0.97,"l":0.94,"h":1},
    {"p":"T","g":"dr","m":"BC","x":19,"y":0.97,"l":0.94,"h":1},
    {"p":"T","g":"dr","m":"BC","x":20,"y":0.97,"l":0.94,"h":1},
    {"p":"T","g":"dr","m":"BC","x":21,"y":0.96,"l":0.93,"h":0.99},
    {"p":"T","g":"dr","m":"BC","x":22,"y":0.98,"l":0.95,"h":1},
    {"p":"T","g":"dr","m":"BC","x":23,"y":0.96,"l":0.93,"h":0.99},
    {"p":"T","g":"dr","m":"BC","x":24,"y":0.97,"l":0.94,"h":1},
    {"p":"T","g":"dr","m":"BC","x":25,"y":0.97,"l":0.94,"h":1},
    {"p":"T","g":"dr","m":"BC","x":26,"y":0.97,"l":0.94,"h":1},
    {"p":"T","g":"dr","m":"BC","x":27,"y":0.98,"l":0.95,"h":1},
    {"p":"T","g":"dr","m":"BC","x":28,"y":0.96,"l":0.93,"h":0.99},
    {"p":"T","g":"dr","m":"BC","x":29,"y":0.94,"l":0.9,"h":0.98},
    {"p":"T","g":"dr","m":"BC","x":30,"y":0.97,"l":0.94,"h":1},
    {"p":"T","g":"dr","m":"DAgger","x":0,"y":0,"l":0,"h":0},
    {"p":"T","g":"dr","m":"DAgger","x":1,"y":0,"l":0,"h":0},
    {"p":"T","g":"dr","m":"DAgger","x":2,"y":0,"l":0,"h":0},
    {"p":"T","g":"dr","m":"DAgger","x":3,"y":0,"l":0,"h":0},
    {"p":"T","g":"dr","m":"DAgger","x":4,"y":0,"l":0,"h":0},
    {"p":"T","g":"dr","m":"DAgger","x":5,"y":0,"l":0,"h":0},
    {"p":"T","g":"dr","m":"DAgger","x":6,"y":0,"l":0,"h":0},
    {"p":"T","g":"dr","m":"DAgger","x":7,"y":0.03,"l":0,"h":0.08},
    {"p":"T","g":"dr","m":"DAgger","x":8,"y":0.24,"l":0.14,"h":0.34},
    {"p":"T","g":"dr","m":"DAgger","x":9,"y":0.46,"l":0.34,"h":0.58},
    {"p":"T","g":"dr","m":"DAgger","x":10,"y":0.52,"l":0.4,"h":0.64},
    {"p":"T","g":"dr","m":"DAgger","x":11,"y":0.69,"l":0.58,"h":0.8},
    {"p":"T","g":"dr","m":"DAgger","x":12,"y":0.76,"l":0.65,"h":0.87},
    {"p":"T","g":"dr","m":"DAgger","x":13,"y":0.88,"l":0.81,"h":0.95},
    {"p":"T","g":"dr","m":"DAgger","x":14,"y":0.96,"l":0.92,"h":0.99},
    {"p":"T","g":"dr","m":"DAgger","x":15,"y":0.965,"l":0.93,"h":1},
    {"p":"T","g":"dr","m":"DAgger","x":16,"y":0.97,"l":0.94,"h":1},
    {"p":"T","g":"dr","m":"DAgger","x":17,"y":0.97,"l":0.94,"h":1},
    {"p":"T","g":"dr","m":"DAgger","x":18,"y":0.96,"l":0.93,"h":0.99},
    {"p":"T","g":"dr","m":"DAgger","x":19,"y":0.97,"l":0.94,"h":1},
    {"p":"T","g":"dr","m":"DAgger","x":20,"y":0.97,"l":0.94,"h":1},
    {"p":"T","g":"dr","m":"DAgger","x":21,"y":0.98,"l":0.95,"h":1},
    {"p":"T","g":"dr","m":"DAgger","x":22,"y":0.97,"l":0.94,"h":1},
    {"p":"T","g":"dr","m":"DAgger","x":23,"y":0.96,"l":0.93,"h":0.99},
    {"p":"T","g":"dr","m":"DAgger","x":24,"y":0.98,"l":0.95,"h":1},
    {"p":"T","g":"dr","m":"DAgger","x":25,"y":0.97,"l":0.94,"h":1},
    {"p":"T","g":"dr","m":"DAgger","x":26,"y":0.98,"l":0.95,"h":1},
    {"p":"T","g":"dr","m":"DAgger","x":27,"y":0.97,"l":0.94,"h":1},
    {"p":"T","g":"dr","m":"DAgger","x":28,"y":0.96,"l":0.93,"h":0.99},
    {"p":"T","g":"dr","m":"DAgger","x":29,"y":0.95,"l":0.91,"h":0.99},
    {"p":"T","g":"dr","m":"DAgger","x":30,"y":0.97,"l":0.94,"h":1},
    {"p":"T","g":"dal","m":"BC","x":0,"y":0,"l":0,"h":0},
    {"p":"T","g":"dal","m":"BC","x":1,"y":0,"l":0,"h":0},
    {"p":"T","g":"dal","m":"BC","x":2,"y":0,"l":0,"h":0},
    {"p":"T","g":"dal","m":"BC","x":3,"y":0,"l":0,"h":0},
    {"p":"T","g":"dal","m":"BC","x":4,"y":0,"l":0,"h":0},
    {"p":"T","g":"dal","m":"BC","x":5,"y":0,"l":0,"h":0},
    {"p":"T","g":"dal","m":"BC","x":6,"y":0,"l":0,"h":0},
    {"p":"T","g":"dal","m":"BC","x":7,"y":0,"l":0,"h":0},
    {"p":"T","g":"dal","m":"BC","x":8,"y":0,"l":0,"h":0},
    {"p":"T","g":"dal","m":"BC","x":9,"y":0,"l":0,"h":0},
    {"p":"T","g":"dal","m":"BC","x":10,"y":0,"l":0,"h":0},
    {"p":"T","g":"dal","m":"BC","x":11,"y":0,"l":0,"h":0},
    {"p":"T","g":"dal","m":"BC","x":12,"y":0,"l":0,"h":0},
    {"p":"T","g":"dal","m":"BC","x":13,"y":0,"l":0,"h":0},
    {"p":"T","g":"dal","m":"BC","x":14,"y":0,"l":0,"h":0},
    {"p":"T","g":"dal","m":"BC","x":15,"y":0,"l":0,"h":0},
    {"p":"T","g":"dal","m":"BC","x":16,"y":0,"l":0,"h":0},
    {"p":"T","g":"dal","m":"BC","x":17,"y":0,"l":0,"h":0},
    {"p":"T","g":"dal","m":"BC","x":18,"y":0,"l":0,"h":0},
    {"p":"T","g":"dal","m":"BC","x":19,"y":0,"l":0,"h":0},
    {"p":"T","g":"dal","m":"BC","x":20,"y":0,"l":0,"h":0},
    {"p":"T","g":"dal","m":"BC","x":21,"y":0,"l":0,"h":0},
    {"p":"T","g":"dal","m":"BC","x":22,"y":0,"l":0,"h":0},
    {"p":"T","g":"dal","m":"BC","x":23,"y":0,"l":0,"h":0},
    {"p":"T","g":"dal","m":"BC","x":24,"y":0,"l":0,"h":0},
    {"p":"T","g":"dal","m":"BC","x":25,"y":0,"l":0,"h":0},
    {"p":"T","g":"dal","m":"BC","x":26,"y":0,"l":0,"h":0},
    {"p":"T","g":"dal","m":"BC","x":27,"y":0,"l":0,"h":0},
    {"p":"T","g":"dal","m":"BC","x":28,"y":0,"l":0,"h":0},
    {"p":"T","g":"dal","m":"BC","x":29,"y":0,"l":0,"h":0},
    {"p":"T","g":"dal","m":"BC","x":30,"y":0,"l":0,"h":0},
    {"p":"T","g":"dal","m":"DAgger","x":0,"y":0,"l":0,"h":0},
    {"p":"T","g":"dal","m":"DAgger","x":1,"y":0,"l":0,"h":0},
    {"p":"T","g":"dal","m":"DAgger","x":2,"y":0,"l":0,"h":0},
    {"p":"T","g":"dal","m":"DAgger","x":3,"y":0,"l":0,"h":0},
    {"p":"T","g":"dal","m":"DAgger","x":4,"y":0,"l":0,"h":0},
    {"p":"T","g":"dal","m":"DAgger","x":5,"y":0,"l":0,"h":0},
    {"p":"T","g":"dal","m":"DAgger","x":6,"y":0.03,"l":0,"h":0.08},
    {"p":"T","g":"dal","m":"DAgger","x":7,"y":0.03,"l":0,"h":0.08},
    {"p":"T","g":"dal","m":"DAgger","x":8,"y":0.094,"l":0.02,"h":0.2},
    {"p":"T","g":"dal","m":"DAgger","x":9,"y":0.26,"l":0.12,"h":0.42},
    {"p":"T","g":"dal","m":"DAgger","x":10,"y":0.44,"l":0.28,"h":0.6},
    {"p":"T","g":"dal","m":"DAgger","x":11,"y":0.44,"l":0.3,"h":0.6},
    {"p":"T","g":"dal","m":"DAgger","x":12,"y":0.54,"l":0.4,"h":0.68},
    {"p":"T","g":"dal","m":"DAgger","x":13,"y":0.64,"l":0.5,"h":0.78},
    {"p":"T","g":"dal","m":"DAgger","x":14,"y":0.75,"l":0.62,"h":0.86},
    {"p":"T","g":"dal","m":"DAgger","x":15,"y":0.77,"l":0.65,"h":0.88},
    {"p":"T","g":"dal","m":"DAgger","x":16,"y":0.8,"l":0.7,"h":0.9},
    {"p":"T","g":"dal","m":"DAgger","x":17,"y":0.86,"l":0.76,"h":0.94},
    {"p":"T","g":"dal","m":"DAgger","x":18,"y":0.9,"l":0.82,"h":0.97},
    {"p":"T","g":"dal","m":"DAgger","x":19,"y":0.87,"l":0.78,"h":0.95},
    {"p":"T","g":"dal","m":"DAgger","x":20,"y":0.91,"l":0.84,"h":0.97},
    {"p":"T","g":"dal","m":"DAgger","x":21,"y":0.855,"l":0.77,"h":0.93},
    {"p":"T","g":"dal","m":"DAgger","x":22,"y":0.9,"l":0.82,"h":0.97},
    {"p":"T","g":"dal","m":"DAgger","x":23,"y":0.91,"l":0.84,"h":0.97},
    {"p":"T","g":"dal","m":"DAgger","x":24,"y":0.91,"l":0.84,"h":0.97},
    {"p":"T","g":"dal","m":"DAgger","x":25,"y":0.97,"l":0.92,"h":1},
    {"p":"T","g":"dal","m":"DAgger","x":26,"y":0.96,"l":0.9,"h":1},
    {"p":"T","g":"dal","m":"DAgger","x":27,"y":0.99,"l":0.97,"h":1},
    {"p":"T","g":"dal","m":"DAgger","x":28,"y":0.89,"l":0.8,"h":0.96},
    {"p":"T","g":"dal","m":"DAgger","x":29,"y":0.97,"l":0.92,"h":1},
    {"p":"T","g":"dal","m":"DAgger","x":30,"y":0.96,"l":0.9,"h":1},
    {"p":"T","g":"sas","m":"BC","x":0,"y":0,"l":0,"h":0},
    {"p":"T","g":"sas","m":"BC","x":1,"y":1,"l":1,"h":1},
    {"p":"T","g":"sas","m":"BC","x":2,"y":1,"l":1,"h":1},
    {"p":"T","g":"sas","m":"BC","x":3,"y":1,"l":1,"h":1},
    {"p":"T","g":"sas","m":"BC","x":4,"y":1,"l":1,"h":1},
    {"p":"T","g":"sas","m":"BC","x":5,"y":1,"l":1,"h":1},
    {"p":"T","g":"sas","m":"BC","x":6,"y":1,"l":1,"h":1},
    {"p":"T","g":"sas","m":"BC","x":7,"y":1,"l":1,"h":1},
    {"p":"T","g":"sas","m":"BC","x":8,"y":1,"l":1,"h":1},
    {"p":"T","g":"sas","m":"BC","x":9,"y":1,"l":1,"h":1},
    {"p":"T","g":"sas","m":"BC","x":10,"y":1,"l":1,"h":1},
    {"p":"T","g":"sas","m":"BC","x":11,"y":1,"l":1,"h":1},
    {"p":"T","g":"sas","m":"BC","x":12,"y":1,"l":1,"h":1},
    {"p":"T","g":"sas","m":"BC","x":13,"y":1,"l":1,"h":1},
    {"p":"T","g":"sas","m":"BC","x":14,"y":1,"l":1,"h":1},
    {"p":"T","g":"sas","m":"BC","x":15,"y":1,"l":1,"h":1},
    {"p":"T","g":"sas","m":"BC","x":16,"y":1,"l":1,"h":1},
    {"p":"T","g":"sas","m":"BC","x":17,"y":1,"l":1,"h":1},
    {"p":"T","g":"sas","m":"BC","x":18,"y":1,"l":1,"h":1},
    {"p":"T","g":"sas","m":"BC","x":19,"y":1,"l":1,"h":1},
    {"p":"T","g":"sas","m":"BC","x":20,"y":1,"l":1,"h":1},
    {"p":"T","g":"sas","m":"BC","x":21,"y":1,"l":1,"h":1},
    {"p":"T","g":"sas","m":"BC","x":22,"y":1,"l":1,"h":1},
    {"p":"T","g":"sas","m":"BC","x":23,"y":1,"l":1,"h":1},
    {"p":"T","g":"sas","m":"BC","x":24,"y":1,"l":1,"h":1},
    {"p":"T","g":"sas","m":"BC","x":25,"y":1,"l":1,"h":1},
    {"p":"T","g":"sas","m":"BC","x":26,"y":1,"l":1,"h":1},
    {"p":"T","g":"sas","m":"BC","x":27,"y":1,"l":1,"h":1},
    {"p":"T","g":"sas","m":"BC","x":28,"y":1,"l":1,"h":1},
    {"p":"T","g":"sas","m":"BC","x":29,"y":1,"l":1,"h":1},
    {"p":"T","g":"sas","m":"BC","x":30,"y":1,"l":1,"h":1},
    {"p":"T","g":"sas","m":"DAgger","x":0,"y":0,"l":0,"h":0},
    {"p":"T","g":"sas","m":"DAgger","x":1,"y":1,"l":1,"h":1},
    {"p":"T","g":"sas","m":"DAgger","x":2,"y":1,"l":1,"h":1},
    {"p":"T","g":"sas","m":"DAgger","x":3,"y":1,"l":1,"h":1},
    {"p":"T","g":"sas","m":"DAgger","x":4,"y":1,"l":1,"h":1},
    {"p":"T","g":"sas","m":"DAgger","x":5,"y":1,"l":1,"h":1},
    {"p":"T","g":"sas","m":"DAgger","x":6,"y":1,"l":1,"h":1},
    {"p":"T","g":"sas","m":"DAgger","x":7,"y":1,"l":1,"h":1},
    {"p":"T","g":"sas","m":"DAgger","x":8,"y":1,"l":1,"h":1},
    {"p":"T","g":"sas","m":"DAgger","x":9,"y":1,"l":1,"h":1},
    {"p":"T","g":"sas","m":"DAgger","x":10,"y":1,"l":1,"h":1},
    {"p":"T","g":"sas","m":"DAgger","x":11,"y":1,"l":1,"h":1},
    {"p":"T","g":"sas","m":"DAgger","x":12,"y":1,"l":1,"h":1},
    {"p":"T","g":"sas","m":"DAgger","x":13,"y":1,"l":1,"h":1},
    {"p":"T","g":"sas","m":"DAgger","x":14,"y":1,"l":1,"h":1},
    {"p":"T","g":"sas","m":"DAgger","x":15,"y":1,"l":1,"h":1},
    {"p":"T","g":"sas","m":"DAgger","x":16,"y":1,"l":1,"h":1},
    {"p":"T","g":"sas","m":"DAgger","x":17,"y":1,"l":1,"h":1},
    {"p":"T","g":"sas","m":"DAgger","x":18,"y":1,"l":1,"h":1},
    {"p":"T","g":"sas","m":"DAgger","x":19,"y":1,"l":1,"h":1},
    {"p":"T","g":"sas","m":"DAgger","x":20,"y":1,"l":1,"h":1},
    {"p":"T","g":"sas","m":"DAgger","x":21,"y":1,"l":1,"h":1},
    {"p":"T","g":"sas","m":"DAgger","x":22,"y":1,"l":1,"h":1},
    {"p":"T","g":"sas","m":"DAgger","x":23,"y":1,"l":1,"h":1},
    {"p":"T","g":"sas","m":"DAgger","x":24,"y":1,"l":1,"h":1},
    {"p":"T","g":"sas","m":"DAgger","x":25,"y":1,"l":1,"h":1},
    {"p":"T","g":"sas","m":"DAgger","x":26,"y":1,"l":1,"h":1},
    {"p":"T","g":"sas","m":"DAgger","x":27,"y":1,"l":1,"h":1},
    {"p":"T","g":"sas","m":"DAgger","x":28,"y":1,"l":1,"h":1},
    {"p":"T","g":"sas","m":"DAgger","x":29,"y":1,"l":1,"h":1},
    {"p":"T","g":"sas","m":"DAgger","x":30,"y":1,"l":1,"h":1}
  ]},
  "config": {
    "font": "DejaVu Serif",
    "view": {"stroke": "#000000", "strokeWidth": 1.1},
    "title": {"font": "DejaVu Serif", "fontSize": 21.5, "fontWeight": "normal", "color": "#000000", "offset": 3, "anchor": "middle"},
    "axis": {"grid": false, "domain": false, "tickColor": "#000000", "tickSize": 5, "tickWidth": 1.1, "labelFont": "DejaVu Serif", "labelFontSize": 18, "labelColor": "#000000", "titleFont": "DejaVu Serif", "titleFontSize": 18, "titleFontWeight": "normal", "titleColor": "#000000", "labelOverlap": false},
    "axisX": {"labelPadding": 4, "titlePadding": 3},
    "axisY": {"labelPadding": 3, "titlePadding": 4},
    "legend": {"orient": "none", "direction": "vertical", "labelFont": "DejaVu Serif", "labelFontSize": 15.7, "labelColor": "#000000", "symbolSize": 100, "symbolOffset": 12, "labelOffset": 25.5, "rowPadding": 9.3, "padding": 0, "labelLimit": 400, "symbolStrokeWidth": 1.6}
  },
  "spacing": 39,
  "hconcat": [
    {
      "title": {"text": "Source Domain (No Disturbance)"},
      "width": 491.6,
      "height": 311.3,
      "transform": [{"filter": "datum.p == 'S'"}],
      "encoding": {
        "x": {"field": "x", "type": "quantitative", "scale": {"domain": [-1.5, 31.5], "nice": false, "zero": false}, "axis": {"values": [0, 5, 10, 15, 20, 25, 30], "format": "d", "title": "Num. Demonstrations Used for Training"}},
        "y": {"field": "y", "type": "quantitative", "scale": {"domain": [-0.05, 1.05], "nice": false, "zero": false}, "axis": {"values": [0, 0.2, 0.4, 0.6, 0.8, 1], "format": ".1f", "title": "Success Rate"}}
      },
      "layer": [
        {
          "mark": {"type": "area", "opacity": 0.2},
          "encoding": {
            "y": {"field": "l", "type": "quantitative", "scale": {"domain": [-0.05, 1.05], "nice": false, "zero": false}, "axis": {"values": [0, 0.2, 0.4, 0.6, 0.8, 1], "format": ".1f", "title": "Success Rate"}},
            "y2": {"field": "h"},
            "fill": {"field": "g", "type": "nominal", "legend": null,
              "scale": {"domain": ["na", "dae", "dr", "dal", "sad", "sas"], "range": ["#1f77b4", "#ff7f0e", "#2ca02c", "#d62728", "#9467bd", "#8c564b"]}},
            "detail": {"field": "m"}
          }
        },
        {
          "mark": {"type": "line", "strokeWidth": 1.6},
          "encoding": {
            "stroke": {"field": "g", "type": "nominal",
              "scale": {"domain": ["hdr", "na", "dae", "dr", "dal", "sad", "sas"], "range": ["transparent", "#1f77b4", "#ff7f0e", "#2ca02c", "#d62728", "#9467bd", "#8c564b"]},
              "legend": {"values": ["hdr", "na", "dae"], "title": null, "legendX": -51.4, "legendY": 388, "symbolType": "M-3.3,0H3.3", "symbolOffset": 12, "labelOffset": 25.5, "labelFont": "DejaVu Serif", "labelFontSize": 15.7, "labelColor": "#000000",
                "labelExpr": "datum.label == 'hdr' ? 'Robustification/Augmentation' : datum.label == 'na' ? 'n.a.' : 'DA (expert neighborhood)'"}},
            "strokeDash": {"field": "m", "type": "nominal",
              "scale": {"domain": ["hdrM", "Expert", "BC", "DAgger"], "range": [[0, 100], [1, 0], [6, 2.25], [1.5, 1.5]]},
              "legend": {"values": ["hdrM", "Expert"], "title": null, "legendX": 784.2, "legendY": 388, "symbolOffset": 10, "labelOffset": 25.5, "labelFont": "DejaVu Serif", "labelFontSize": 15.7, "labelColor": "#000000", "symbolFillColor": "transparent", "symbolStrokeColor": "#333333",
                "symbolType": "M-3.3,0H3.3M0.7,0A0.7,0.7,0,1,1,-0.7,0A0.7,0.7,0,1,1,0.7,0ZM0.4,0A0.4,0.4,0,1,1,-0.4,0A0.4,0.4,0,1,1,0.4,0ZM0.12,0A0.12,0.12,0,1,1,-0.12,0A0.12,0.12,0,1,1,0.12,0Z",
                "labelExpr": "datum.label == 'hdrM' ? 'Method' : datum.label"}}
          }
        },
        {
          "transform": [{"filter": "datum.m == 'BC'"}],
          "mark": {"type": "point", "filled": true, "opacity": 1, "size": 140, "stroke": "white", "strokeWidth": 0.8, "shape": "M0.5,-1L1,-0.5L0.5,0L1,0.5L0.5,1L0,0.5L-0.5,1L-1,0.5L-0.5,0L-1,-0.5L-0.5,-1L0,-0.5Z"},
          "encoding": {"fill": {"field": "g", "type": "nominal", "legend": null}}
        },
        {
          "transform": [{"filter": "datum.m == 'DAgger'"}],
          "mark": {"type": "point", "filled": true, "opacity": 1, "size": 140, "stroke": "white", "strokeWidth": 0.8, "shape": "M-0.79,-0.79H0.79V0.79H-0.79Z"},
          "encoding": {"fill": {"field": "g", "type": "nominal", "legend": null}}
        },
        {
          "transform": [{"filter": "datum.m == 'Expert'"}],
          "mark": {"type": "point", "filled": true, "opacity": 1, "size": 140, "stroke": "white", "strokeWidth": 0.8, "shape": "M0.9,0A0.9,0.9,0,1,1,-0.9,0A0.9,0.9,0,1,1,0.9,0Z"},
          "encoding": {"fill": {"field": "g", "type": "nominal", "legend": null}}
        },
        {
          "transform": [{"filter": "datum.x < -10"}],
          "mark": {"type": "line", "strokeWidth": 1.6},
          "encoding": {
            "color": {"field": "g", "type": "nominal",
              "scale": {"domain": ["na", "dae", "dr", "sad", "dal", "sas"], "range": ["#1f77b4", "#ff7f0e", "#2ca02c", "#d62728", "#9467bd", "#8c564b"]},
              "legend": {"values": ["dr", "sad", "dal", "sas"], "columns": 2, "columnPadding": 108, "title": null, "legendX": 260.9, "legendY": 388, "symbolType": "M-3.3,0H3.3", "symbolOffset": 14, "labelOffset": 25.5, "labelFont": "DejaVu Serif", "labelFontSize": 15.7, "labelColor": "#000000",
                "labelExpr": "datum.label == 'dr' ? 'DR' : datum.label == 'dal' ? 'SA-dense' : datum.label == 'sad' ? 'DA (linear interpolation)' : 'SA-sparse'"}}
          }
        },
        {
          "transform": [{"filter": "datum.x < -10"}],
          "mark": {"type": "point", "filled": true, "opacity": 1, "color": "#333333", "stroke": "#333333", "strokeWidth": 1.5},
          "encoding": {
            "shape": {"field": "m", "type": "nominal",
              "scale": {"domain": ["BC", "DAgger", "Expert"], "range": [
                "M-3.3,0H-2.3M-1.8,0H-0.5M0.5,0H1.8M2.3,0H3.3M0.375,-0.75L0.75,-0.375L0.375,0L0.75,0.375L0.375,0.75L0,0.375L-0.375,0.75L-0.75,0.375L-0.375,0L-0.75,-0.375L-0.375,-0.75L0,-0.375Z",
                "M-3.3,0H-3M-2.7,0H-2.4M-2.1,0H-1.8M-1.5,0H-1.2M-0.9,0H-0.6M0.6,0H0.9M1.2,0H1.5M1.8,0H2.1M2.4,0H2.7M3,0H3.3M-0.6,-0.6H0.6V0.6H-0.6Z",
                "circle"]},
              "legend": {"values": ["BC", "DAgger"], "title": null, "legendX": 923.6, "legendY": 388, "symbolOffset": 18, "labelOffset": 25.5, "labelFont": "DejaVu Serif", "labelFontSize": 15.7, "labelColor": "#000000"}}
          }
        },
        {
          "transform": [{"filter": "datum.x < -10"}],
          "mark": {"type": "point", "filled": false, "opacity": 1, "color": "#cccccc", "strokeWidth": 1},
          "encoding": {
            "size": {"field": "p", "type": "nominal",
              "scale": {"domain": ["box"], "range": [400, 400]},
              "legend": {"values": ["box"], "title": null, "legendX": -52, "legendY": 380.5, "symbolOffset": -10.5, "labelOffset": 0,
                "symbolType": "M0.4,-1.05H109.7A0.4,0.4,0,0,1,110.1,-0.65V6.95A0.4,0.4,0,0,1,109.7,7.35H0.4A0.4,0.4,0,0,1,0,6.95V-0.65A0.4,0.4,0,0,1,0.4,-1.05Z", "labelExpr": "''"}}
          }
        }
      ]
    },
    {
      "title": {"text": "Target Domain (With Disturbance)"},
      "width": 491.6,
      "height": 311.3,
      "transform": [{"filter": "datum.p == 'T'"}],
      "encoding": {
        "x": {"field": "x", "type": "quantitative", "scale": {"domain": [-1.5, 31.5], "nice": false, "zero": false}, "axis": {"values": [0, 5, 10, 15, 20, 25, 30], "format": "d", "title": "Num. Demonstrations Used for Training"}},
        "y": {"field": "y", "type": "quantitative", "scale": {"domain": [-0.05, 1.05], "nice": false, "zero": false}, "axis": {"values": [0, 0.2, 0.4, 0.6, 0.8, 1], "format": ".1f", "title": "Success Rate"}}
      },
      "layer": [
        {
          "mark": {"type": "area", "opacity": 0.2},
          "encoding": {
            "y": {"field": "l", "type": "quantitative", "scale": {"domain": [-0.05, 1.05], "nice": false, "zero": false}, "axis": {"values": [0, 0.2, 0.4, 0.6, 0.8, 1], "format": ".1f", "title": "Success Rate"}},
            "y2": {"field": "h"},
            "fill": {"field": "g", "type": "nominal", "legend": null,
              "scale": {"domain": ["na", "dae", "dr", "dal", "sad", "sas"], "range": ["#1f77b4", "#ff7f0e", "#2ca02c", "#d62728", "#9467bd", "#8c564b"]}},
            "detail": {"field": "m"}
          }
        },
        {
          "mark": {"type": "line", "strokeWidth": 1.6},
          "encoding": {
            "stroke": {"field": "g", "type": "nominal",
              "scale": {"domain": ["hdr", "na", "dae", "dr", "dal", "sad", "sas"], "range": ["transparent", "#1f77b4", "#ff7f0e", "#2ca02c", "#d62728", "#9467bd", "#8c564b"]},
              "legend": {"values": ["hdr", "na", "dae"], "title": null, "legendX": -51.4, "legendY": 388, "symbolType": "M-3.3,0H3.3", "symbolOffset": 12, "labelOffset": 25.5, "labelFont": "DejaVu Serif", "labelFontSize": 15.7, "labelColor": "#000000",
                "labelExpr": "datum.label == 'hdr' ? 'Robustification/Augmentation' : datum.label == 'na' ? 'n.a.' : 'DA (expert neighborhood)'"}},
            "strokeDash": {"field": "m", "type": "nominal",
              "scale": {"domain": ["hdrM", "Expert", "BC", "DAgger"], "range": [[0, 100], [1, 0], [6, 2.25], [1.5, 1.5]]},
              "legend": {"values": ["hdrM", "Expert"], "title": null, "legendX": 784.2, "legendY": 388, "symbolOffset": 10, "labelOffset": 25.5, "labelFont": "DejaVu Serif", "labelFontSize": 15.7, "labelColor": "#000000", "symbolFillColor": "transparent", "symbolStrokeColor": "#333333",
                "symbolType": "M-3.3,0H3.3M0.7,0A0.7,0.7,0,1,1,-0.7,0A0.7,0.7,0,1,1,0.7,0ZM0.4,0A0.4,0.4,0,1,1,-0.4,0A0.4,0.4,0,1,1,0.4,0ZM0.12,0A0.12,0.12,0,1,1,-0.12,0A0.12,0.12,0,1,1,0.12,0Z",
                "labelExpr": "datum.label == 'hdrM' ? 'Method' : datum.label"}}
          }
        },
        {
          "transform": [{"filter": "datum.m == 'BC'"}],
          "mark": {"type": "point", "filled": true, "opacity": 1, "size": 140, "stroke": "white", "strokeWidth": 0.8, "shape": "M0.5,-1L1,-0.5L0.5,0L1,0.5L0.5,1L0,0.5L-0.5,1L-1,0.5L-0.5,0L-1,-0.5L-0.5,-1L0,-0.5Z"},
          "encoding": {"fill": {"field": "g", "type": "nominal", "legend": null}}
        },
        {
          "transform": [{"filter": "datum.m == 'DAgger'"}],
          "mark": {"type": "point", "filled": true, "opacity": 1, "size": 140, "stroke": "white", "strokeWidth": 0.8, "shape": "M-0.79,-0.79H0.79V0.79H-0.79Z"},
          "encoding": {"fill": {"field": "g", "type": "nominal", "legend": null}}
        },
        {
          "transform": [{"filter": "datum.m == 'Expert'"}],
          "mark": {"type": "point", "filled": true, "opacity": 1, "size": 140, "stroke": "white", "strokeWidth": 0.8, "shape": "M0.9,0A0.9,0.9,0,1,1,-0.9,0A0.9,0.9,0,1,1,0.9,0Z"},
          "encoding": {"fill": {"field": "g", "type": "nominal", "legend": null}}
        }
      ]
    }
  ]
}
